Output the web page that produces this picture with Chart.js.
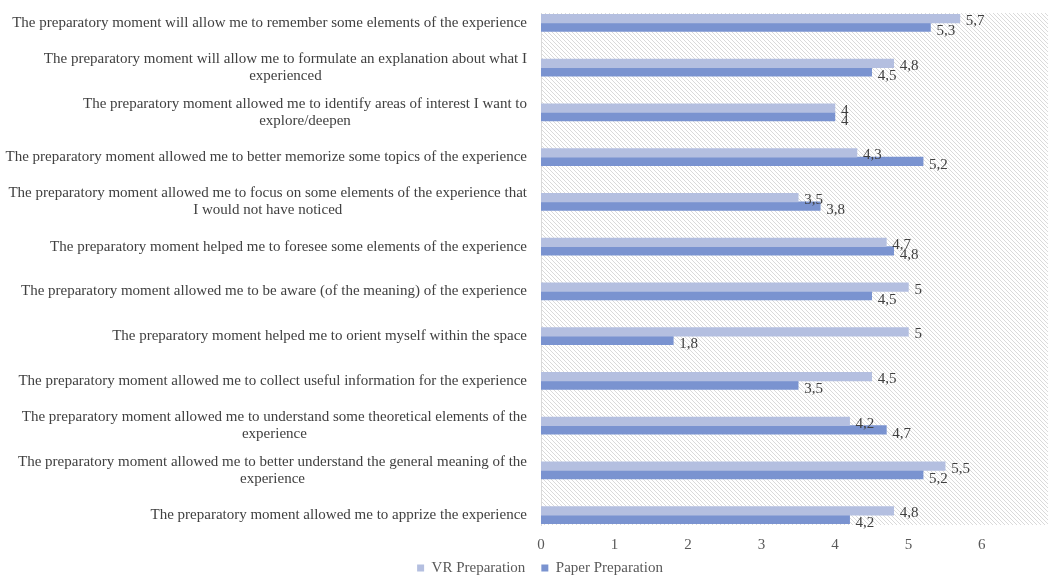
<!DOCTYPE html>
<html>
<head>
<meta charset="utf-8">
<script src="https://cdn.jsdelivr.net/npm/chart.js@4"></script>
<style>
  html, body { margin: 0; padding: 0; background: #ffffff; }
</style>
</head>
<body>
<canvas id="prepChart" width="1048" height="575"></canvas>
<script>
// statements, one entry per row, already split where the line wraps
const statements = [
    ['The preparatory moment will allow me to remember some elements of the experience'],
    ['The preparatory moment will allow me to formulate an explanation about what I', 'experienced'],
    ['The preparatory moment allowed me to identify areas of interest I want to', 'explore/deepen'],
    ['The preparatory moment allowed me to better memorize some topics of the experience'],
    ['The preparatory moment allowed me to focus on some elements of the experience that', 'I would not have noticed'],
    ['The preparatory moment helped me to foresee some elements of the experience'],
    ['The preparatory moment allowed me to be aware (of the meaning) of the experience'],
    ['The preparatory moment helped me to orient myself within the space'],
    ['The preparatory moment allowed me to collect useful information for the experience'],
    ['The preparatory moment allowed me to understand some theoretical elements of the', 'experience'],
    ['The preparatory moment allowed me to better understand the general meaning of the', 'experience'],
    ['The preparatory moment allowed me to apprize the experience']
];

const vrPreparation = [5.7, 4.8, 4, 4.3, 3.5, 4.7, 5, 5, 4.5, 4.2, 5.5, 4.8];
const paperPreparation = [5.3, 4.5, 4, 5.2, 3.8, 4.8, 4.5, 1.8, 3.5, 4.7, 5.2, 4.2];

const xTickValues = [0, 1, 2, 3, 4, 5, 6];

const serif = "'Liberation Serif', 'Times New Roman', serif";
const textColor = '#404040';
const axisColor = '#595959';

function formatComma(v) {
    return String(v).replace('.', ',');
}

// light diagonal hatching behind the bars
function makeHatch(ctx) {
    const tile = document.createElement('canvas');
    tile.width = 8;
    tile.height = 8;
    const t = tile.getContext('2d');
    t.fillStyle = '#ffffff';
    t.fillRect(0, 0, 8, 8);
    t.strokeStyle = '#dadada';
    t.lineWidth = 1;
    for (let x = -8; x <= 8; x += 4) {
        t.beginPath();
        t.moveTo(x, 0);
        t.lineTo(x + 8, 8);
        t.stroke();
    }
    return ctx.createPattern(tile, 'repeat');
}

const hatchBackground = {
    id: 'hatchBackground',
    beforeDraw(chart) {
        const { ctx, chartArea } = chart;
        ctx.save();
        ctx.fillStyle = makeHatch(ctx);
        ctx.fillRect(chartArea.left, chartArea.top, chartArea.right - chartArea.left, chartArea.bottom - chartArea.top);
        ctx.restore();
    }
};

// row labels: right aligned block, wrapped lines centred inside it
const statementLabels = {
    id: 'statementLabels',
    afterDraw(chart) {
        const { ctx, chartArea } = chart;
        const y = chart.scales.y;
        ctx.save();
        ctx.font = '15px ' + serif;
        ctx.fillStyle = textColor;
        ctx.textAlign = 'center';
        ctx.textBaseline = 'middle';
        statements.forEach((lines, i) => {
            const cy = y.getPixelForValue(i);
            const blockWidth = Math.max(...lines.map(l => ctx.measureText(l).width));
            const cx = chartArea.left - 14 - blockWidth / 2;
            const lineHeight = 17;
            lines.forEach((line, j) => {
                ctx.fillText(line, cx, cy + (j - (lines.length - 1) / 2) * lineHeight);
            });
        });
        ctx.restore();
    }
};

// value labels at the end of each bar
const valueLabels = {
    id: 'valueLabels',
    afterDatasetsDraw(chart) {
        const { ctx } = chart;
        ctx.save();
        ctx.font = '15px ' + serif;
        ctx.fillStyle = textColor;
        ctx.textAlign = 'left';
        ctx.textBaseline = 'middle';
        chart.data.datasets.forEach((ds, di) => {
            const meta = chart.getDatasetMeta(di);
            const shift = di === 0 ? 2.5 : 4;
            meta.data.forEach((bar, i) => {
                ctx.fillText(formatComma(ds.data[i].x), bar.x + 6, bar.y + shift);
            });
        });
        ctx.restore();
    }
};

const ctx = document.getElementById('prepChart').getContext('2d');

new Chart(ctx, {
    type: 'bar',
    data: {
        datasets: [
            {
                label: 'VR Preparation',
                data: vrPreparation.map((v, i) => ({ x: v, y: i })),
                backgroundColor: '#b4bfe0',
                barThickness: 8.5
            },
            {
                label: 'Paper Preparation',
                data: paperPreparation.map((v, i) => ({ x: v, y: i })),
                backgroundColor: '#7a93d0',
                barThickness: 8.5
            }
        ]
    },
    options: {
        indexAxis: 'y',
        responsive: false,
        animation: false,
        layout: { padding: { left: 32, top: 13, right: 0, bottom: -10.5 } },
        scales: {
            x: {
                type: 'linear',
                min: 0,
                max: 6.9,
                afterBuildTicks: (scale) => {
                    scale.ticks = xTickValues.map(v => ({ value: v }));
                },
                afterFit: (scale) => { scale.height = 27; },
                grid: { display: false, drawTicks: false },
                border: { display: false },
                ticks: {
                    color: axisColor,
                    padding: 11,
                    font: { family: serif, size: 15 },
                    maxRotation: 0
                }
            },
            y: {
                type: 'linear',
                reverse: true,
                offset: false,
                min: -0.22,
                max: 11.22,
                afterFit: (scale) => { scale.width = 509; },
                grid: { display: false, drawTicks: false, offset: false },
                border: { display: true, color: '#d9d9d9' },
                ticks: { display: false }
            }
        },
        plugins: {
            legend: {
                position: 'bottom',
                labels: {
                    color: axisColor,
                    boxWidth: 7,
                    boxHeight: 7,
                    padding: 8.5,
                    font: { family: serif, size: 15 },
                    // a little extra room after the first entry
                    generateLabels: (chart) => {
                        const items = Chart.defaults.plugins.legend.labels.generateLabels(chart);
                        items[0].text += '  ';
                        return items;
                    }
                }
            },
            tooltip: { enabled: false }
        }
    },
    plugins: [hatchBackground, statementLabels, valueLabels]
});
</script>
</body>
</html>
